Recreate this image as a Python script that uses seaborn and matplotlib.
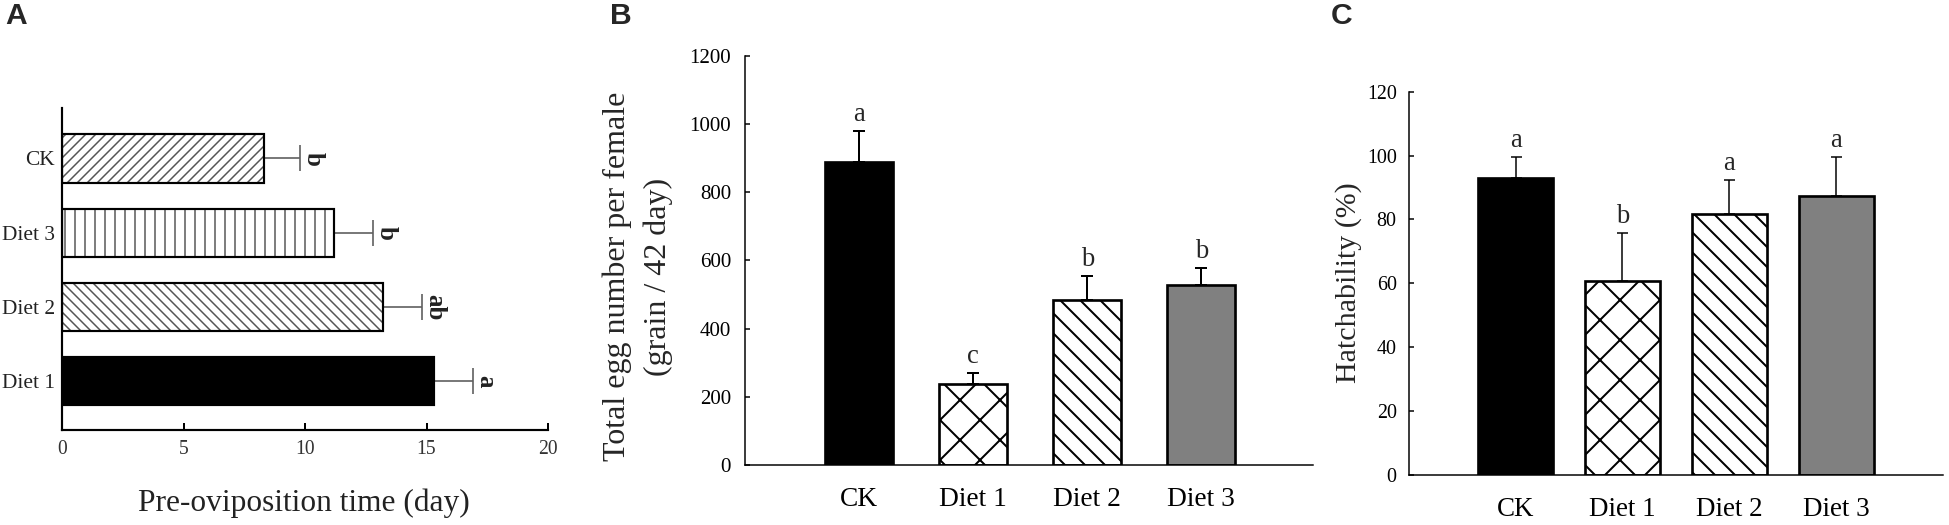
import numpy as np
import matplotlib
matplotlib.use("Agg")
import matplotlib.pyplot as plt
import seaborn as sns
from matplotlib.patches import Rectangle

# ---------------- data ----------------
# Panel A (horizontal bars, top to bottom)
a_groups = ["CK", "Diet 3", "Diet 2", "Diet 1"]
a_means = [8.3, 11.2, 13.2, 15.3]
a_errs = [1.5, 1.6, 1.6, 1.6]
a_letters = ["b", "b", "ab", "a"]
a_xticks = [0, 5, 10, 15, 20]

# Panels B and C
groups = ["CK", "Diet 1", "Diet 2", "Diet 3"]
b_means = [888, 238, 484, 528]
b_errs = [91, 33, 71, 50]
b_letters = ["a", "c", "b", "b"]
b_yticks = [0, 200, 400, 600, 800, 1000, 1200]

c_means = [92.9, 60.8, 81.7, 87.4]
c_errs = [6.8, 14.9, 10.5, 12.3]
c_letters = ["a", "b", "a", "a"]
c_yticks = [0, 20, 40, 60, 80, 100, 120]

# ---------------- style ----------------
sns.set_style("ticks")
plt.rcParams["font.family"] = ["Liberation Serif", "DejaVu Serif"]
plt.rcParams["hatch.linewidth"] = 1.2

DPI = 120
fig = plt.figure(figsize=(1949 / DPI, 525 / DPI), dpi=DPI)
fig.patch.set_facecolor("white")


def set_hlw(p, lw):
    if hasattr(p, "set_hatch_linewidth"):
        p.set_hatch_linewidth(lw)


# ---------------- Panel A ----------------
axA = fig.add_axes([62 / 1949, 95 / 525, 486 / 1949, 322 / 525])
sns.barplot(x=a_means, y=a_groups, orient="h", color="white", width=0.65,
            edgecolor="black", linewidth=0, ax=axA, errorbar=None)
a_face = {"CK": "white", "Diet 3": "white", "Diet 2": "white", "Diet 1": "black"}
a_hatch = {"CK": "////", "Diet 3": "||", "Diet 2": "\\\\\\\\", "Diet 1": None}
bars = sorted(axA.patches, key=lambda p: p.get_y())
for g, p in zip(a_groups, bars):
    p.set_facecolor(a_face[g])
    if a_hatch[g]:
        p.set_hatch(a_hatch[g])
        p.set_edgecolor("#555555")
        set_hlw(p, 0.9)
    else:
        p.set_edgecolor("black")
    p.set_linewidth(0)
    axA.add_patch(Rectangle(p.get_xy(), p.get_width(), p.get_height(),
                            fill=False, edgecolor="black", linewidth=1.3, zorder=1.5))
ypos = np.arange(len(a_groups))
axA.errorbar(a_means, ypos, xerr=[np.zeros(len(a_errs)), a_errs], fmt="none",
             ecolor="#606060", elinewidth=1.0, capsize=7.8, capthick=1.0, zorder=0.9)
for i, (m, e, l) in enumerate(zip(a_means, a_errs, a_letters)):
    axA.annotate(l, xy=(m + e, i), xytext=(4.2, 0), textcoords="offset points",
                 rotation=270, rotation_mode="anchor", ha="center", va="baseline",
                 fontsize=15, fontweight="bold", color="#222222")
axA.set_xlim(0, 20)
axA.set_ylim(3.66, -0.68)
axA.set_xticks(a_xticks)
axA.set_xticklabels([str(t) for t in a_xticks])
axA.set_xlabel("Pre-oviposition time (day)", fontsize=18.8, color="#222222")
axA.xaxis.set_label_coords(0.497, -0.183)
axA.set_ylabel("")
for s in ["top", "right"]:
    axA.spines[s].set_visible(False)
for s in ["left", "bottom"]:
    axA.spines[s].set_linewidth(1.3)
    axA.spines[s].set_color("black")
axA.tick_params(axis="x", direction="in", length=4.2, width=1.2, pad=6,
                labelsize=11.8, labelcolor="#333333", color="black")
axA.tick_params(axis="y", direction="in", length=4.8, width=1.2, pad=4.2,
                labelsize=12.8, labelcolor="#222222", color="black")


# ---------------- Panels B and C ----------------
bc_face = {"CK": "black", "Diet 1": "white", "Diet 2": "white", "Diet 3": "#808080"}
bc_hatch = {"CK": None, "Diet 1": "x", "Diet 2": "\\\\", "Diet 3": None}


def bar_panel(ax, means, errs, letters, yticks, ylim, xlim, width, capsize, elw):
    sns.barplot(x=groups, y=means, color="white", width=width, edgecolor="black",
                linewidth=1.6, ax=ax, errorbar=None)
    bars = sorted(ax.patches, key=lambda p: p.get_x())
    for g, p in zip(groups, bars):
        p.set_facecolor(bc_face[g])
        p.set_edgecolor("black")
        p.set_linewidth(1.6)
        if bc_hatch[g]:
            p.set_hatch(bc_hatch[g])
            set_hlw(p, 1.2)
    xpos = np.arange(len(groups))
    ax.errorbar(xpos, means, yerr=[np.zeros(len(errs)), errs], fmt="none",
                ecolor="black", elinewidth=elw, capsize=capsize, capthick=elw, zorder=0.9)
    for i, (m, e, l) in enumerate(zip(means, errs, letters)):
        ax.annotate(l, xy=(i, m + e), xytext=(0, 6), textcoords="offset points",
                    ha="center", va="baseline", fontsize=16)
    ax.set_ylim(*ylim)
    ax.set_xlim(*xlim)
    ax.set_yticks(yticks)
    ax.set_yticklabels([str(t) for t in yticks])
    ax.set_xlabel("")
    for s in ["top", "right"]:
        ax.spines[s].set_visible(False)
    for s in ["left", "bottom"]:
        ax.spines[s].set_linewidth(0.9)
        ax.spines[s].set_color("black")
    ax.tick_params(axis="both", direction="in", length=3, width=0.9, color="black",
                   labelcolor="black")


axB = fig.add_axes([745 / 1949, 60 / 525, 568 / 1949, 409.2 / 525])
bar_panel(axB, b_means, b_errs, b_letters, b_yticks, (0, 1200), (-1.0, 3.98),
          0.6, 3.8, 1.2)
axB.tick_params(axis="y", labelsize=12.6, pad=8.4)
axB.tick_params(axis="x", labelsize=16.4, pad=13)
axB.set_ylabel("Total egg number per female\n(grain / 42 day)", fontsize=19.2,
               linespacing=1.5)
axB.yaxis.set_label_coords(-0.127, 0.46)

axC = fig.add_axes([1408.7 / 1949, 50 / 525, 534.3 / 1949, 383.3 / 525])
bar_panel(axC, c_means, c_errs, c_letters, c_yticks, (0, 120), (-1.0, 4.0),
          0.7, 3.3, 0.9)
axC.tick_params(axis="y", labelsize=12.0, pad=7.2)
axC.tick_params(axis="x", labelsize=16.2, pad=13)
axC.set_ylabel("Hatchability (%)", fontsize=18)
axC.yaxis.set_label_coords(-0.087, 0.502)

# ---------------- panel letters ----------------
for txt, x in [("A", 5), ("B", 610), ("C", 1331)]:
    fig.text(x / 1949, 1 - 2 / 525, txt, ha="left", va="top", fontsize=18,
             fontweight="bold", family=["Liberation Sans", "DejaVu Sans"])

fig.savefig("out.png", dpi=DPI, facecolor="white")
